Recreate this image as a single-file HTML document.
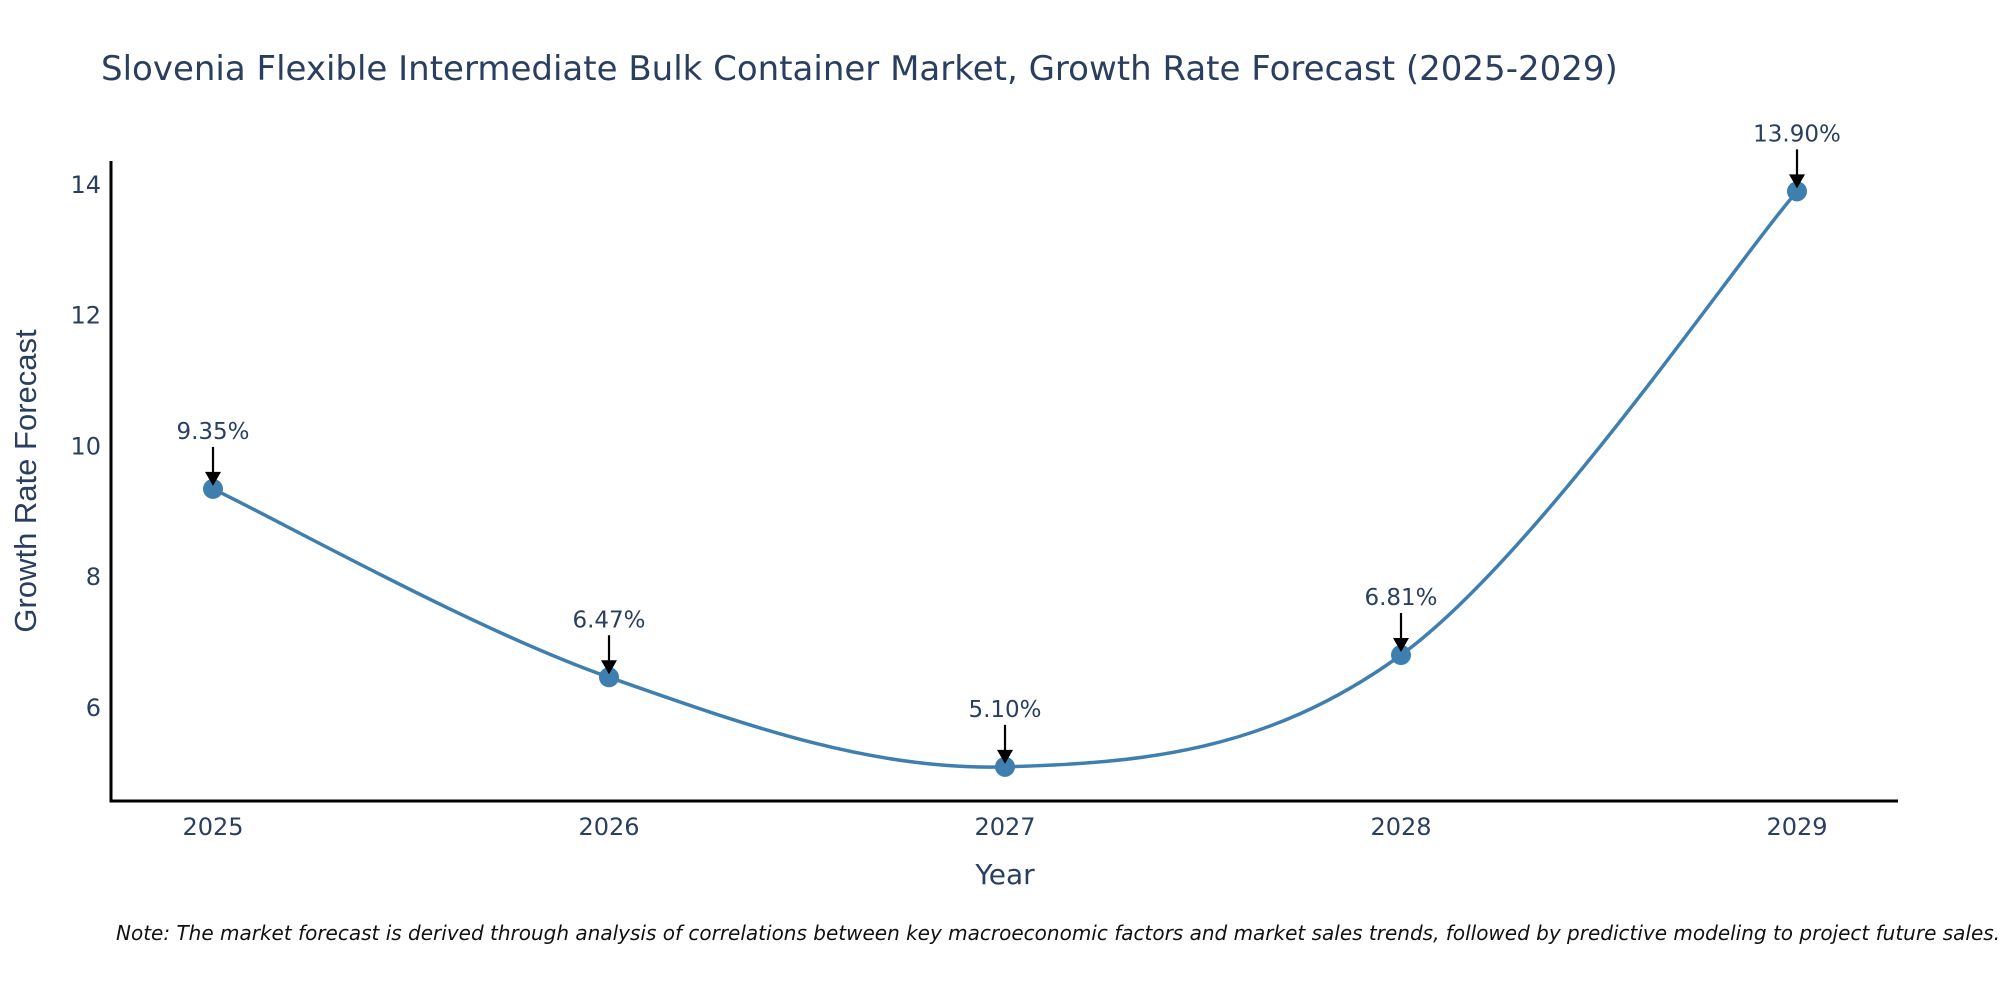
<!DOCTYPE html>
<html><head><meta charset="utf-8"><style>
html,body{margin:0;padding:0;background:#fff;}
svg{display:block;font-family:"DejaVu Sans","Liberation Sans",sans-serif;}
</style></head><body>
<svg id="chart" width="2000" height="1000" viewBox="0 0 2000 1000">
<text x="101" y="80" font-size="34" fill="#2a3f5f">Slovenia Flexible Intermediate Bulk Container Market, Growth Rate Forecast (2025-2029)</text>
<g id="axes"></g>
<g id="series"></g>
<text x="1005" y="884" font-size="28" fill="#2a3f5f" text-anchor="middle">Year</text>
<text transform="translate(36,481) rotate(-90)" font-size="31" font-family="Liberation Sans, sans-serif" fill="#2a3f5f" text-anchor="middle">Growth Rate Forecast</text>
<text x="116" y="940" font-size="20" font-style="italic" fill="#111">Note: The market forecast is derived through analysis of correlations between key macroeconomic factors and market sales trends, followed by predictive modeling to project future sales.</text>
</svg>
<script>
const years=[2025,2026,2027,2028,2029];
const values=[9.35,6.47,5.10,6.81,13.90];
const labels=["9.35%","6.47%","5.10%","6.81%","13.90%"];
const yTicks=[6,8,10,12,14];

const NS="http://www.w3.org/2000/svg";
const X0=111,X1=1898,Y0=801,Y1=161;
function xs(v){return 213+(v-2025)*396;}
function ys(v){return 708-(v-6)*65.4;}
function mk(tag,attrs,parent){const e=document.createElementNS(NS,tag);for(const k in attrs)e.setAttribute(k,attrs[k]);parent.appendChild(e);return e;}
const axes=document.getElementById('axes'),ser=document.getElementById('series');

const yl=mk('line',{x1:X0,y1:Y1,x2:X0,y2:Y0+1.5,stroke:'#000','stroke-width':3},axes);


const xl=mk('line',{x1:X0-1.5,y1:Y0,x2:X1,y2:Y0,stroke:'#000','stroke-width':3},axes);



yTicks.forEach(t=>{
  const e=mk('text',{x:X0-10,y:ys(t)+8,'font-size':24,fill:'#2a3f5f','text-anchor':'end'},axes);
  e.textContent=t;
  
  
});
years.forEach(y=>{
  const e=mk('text',{x:xs(y),y:835,'font-size':24,fill:'#2a3f5f','text-anchor':'middle'},axes);
  e.textContent=y;
  
  
});

const pts=years.map((y,i)=>[xs(y),ys(values[i])]);
let d=`M${pts[0][0]},${pts[0][1]}`;
const t=0.17;
for(let i=0;i<pts.length-1;i++){
  const p0=pts[i-1]||pts[i],p1=pts[i],p2=pts[i+1],p3=pts[i+2]||pts[i+1];
  const c1=[p1[0]+(p2[0]-p0[0])*t,p1[1]+(p2[1]-p0[1])*t];
  const c2=[p2[0]-(p3[0]-p1[0])*t,p2[1]-(p3[1]-p1[1])*t];
  d+=` C${c1[0]},${c1[1]} ${c2[0]},${c2[1]} ${p2[0]},${p2[1]}`;
}
const path=mk('path',{d:d,fill:'none',stroke:'#3f7fb0','stroke-width':3.5},ser);



pts.forEach((p,i)=>{
  const c=mk('circle',{cx:p[0],cy:p[1],r:10,fill:'#3f7fb0'},ser);
  
  
  const a=mk('line',{x1:p[0],y1:p[1]-42,x2:p[0],y2:p[1]-14,stroke:'#000','stroke-width':2.2},ser);
  
  
  const h=mk('path',{d:`M${p[0]-8},${p[1]-17} L${p[0]+8},${p[1]-17} L${p[0]},${p[1]-3} Z`,fill:'#000'},ser);
  
  
  const tx=mk('text',{x:p[0],y:p[1]-50,'font-size':23,fill:'#2a3f5f','text-anchor':'middle'},ser);
  tx.textContent=labels[i];
  
  
});
</script>
</body></html>
